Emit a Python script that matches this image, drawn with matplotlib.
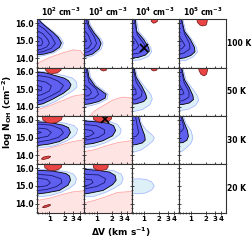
import numpy as np
import matplotlib.pyplot as plt
from matplotlib.ticker import NullFormatter, MultipleLocator

temps = ['100 K', '50 K', '30 K', '20 K']
dens_exp = [2, 3, 4, 5]

# contour outlines as (log10 dV [km/s], log N_OH) pairs,
# keyed by (row, col): rows = temperature, cols = density

# outer (black-edged) dark blue region
dark_zone = {
    (0, 0): [(-0.3, 16.3), (-0.21, 16.3), (-0.18, 16.08), (-0.07, 15.81), (0.07, 15.48), (0.18, 15.18),
             (0.24, 14.88), (0.20, 14.63), (0.07, 14.38), (-0.10, 14.25), (-0.3, 14.19)],
    (0, 1): [(-0.3, 16.3), (-0.18, 16.3), (-0.15, 15.89), (-0.05, 15.45), (0.05, 15.10), (0.09, 14.85),
             (0.05, 14.55), (-0.08, 14.25), (-0.3, 14.06)],
    (0, 2): [(-0.3, 16.3), (-0.17, 16.3), (-0.14, 15.54), (0.0, 15.07), (0.10, 14.60), (0.11, 14.41),
             (0.03, 14.19), (-0.11, 14.06), (-0.3, 14.0)],
    (0, 3): [(-0.3, 16.3), (-0.19, 16.3), (-0.13, 15.54), (-0.01, 15.07), (0.07, 14.63), (0.08, 14.38),
             (0.0, 14.17), (-0.13, 14.03), (-0.3, 13.97)],
    (1, 0): [(-0.3, 16.0), (-0.07, 15.92), (0.14, 15.75), (0.30, 15.62), (0.38, 15.48), (0.43, 15.26),
             (0.40, 15.04), (0.28, 14.77), (0.07, 14.44), (-0.13, 14.17), (-0.3, 14.08)],
    (1, 1): [(-0.3, 16.3), (-0.19, 16.3), (-0.15, 15.67), (-0.03, 15.18), (0.10, 14.90), (0.19, 14.71),
             (0.17, 14.49), (0.04, 14.30), (-0.13, 14.17), (-0.3, 14.11)],
    (1, 2): [(-0.3, 16.3), (-0.20, 16.3), (-0.15, 15.67), (-0.03, 15.12), (0.04, 14.71), (0.06, 14.49),
             (0.0, 14.30), (-0.15, 14.17), (-0.3, 14.14)],
    (1, 3): [(-0.3, 16.3), (-0.19, 16.3), (-0.13, 15.54), (-0.03, 15.07), (0.04, 14.63), (0.05, 14.41),
             (-0.03, 14.22), (-0.15, 14.14), (-0.3, 14.11)],
    (2, 0): [(-0.3, 15.89), (0.0, 15.86), (0.27, 15.70), (0.38, 15.56), (0.42, 15.29), (0.36, 15.01),
             (0.20, 14.77), (0.0, 14.63), (-0.3, 14.52)],
    (2, 1): [(-0.3, 15.95), (0.0, 15.89), (0.23, 15.81), (0.34, 15.67), (0.38, 15.40), (0.32, 15.10),
             (0.13, 14.82), (-0.07, 14.66), (-0.3, 14.58)],
    (2, 2): [(-0.3, 16.3), (-0.11, 16.3), (-0.08, 15.89), (-0.02, 15.40), (0.02, 15.10), (0.03, 14.85),
             (-0.03, 14.69), (-0.15, 14.60), (-0.3, 14.55)],
    (2, 3): [(-0.3, 16.3), (-0.19, 16.3), (-0.13, 15.81), (-0.07, 15.40), (-0.05, 15.07), (-0.08, 14.85),
             (-0.16, 14.71), (-0.3, 14.69)],
    (3, 0): [(-0.3, 15.89), (0.07, 15.84), (0.33, 15.70), (0.40, 15.56), (0.42, 15.32), (0.37, 15.04),
             (0.20, 14.74), (-0.07, 14.60), (-0.3, 14.52)],
    (3, 1): [(-0.3, 15.95), (0.0, 15.89), (0.26, 15.78), (0.37, 15.59), (0.39, 15.32), (0.32, 15.07),
             (0.13, 14.74), (-0.15, 14.58), (-0.3, 14.52)],
}

# pale blue outer region
pale_zone = {
    (0, 0): [(-0.3, 16.3), (-0.19, 16.3), (-0.16, 16.08), (-0.05, 15.81), (0.10, 15.48), (0.22, 15.18),
             (0.28, 14.88), (0.24, 14.60), (0.10, 14.33), (-0.10, 14.17), (-0.3, 14.08)],
    (0, 1): [(-0.3, 16.3), (-0.16, 16.3), (-0.12, 15.89), (-0.02, 15.45), (0.09, 15.10), (0.13, 14.85),
             (0.09, 14.52), (-0.06, 14.17), (-0.3, 13.97)],
    (0, 2): [(-0.3, 16.3), (-0.15, 16.3), (-0.10, 15.54), (0.04, 15.07), (0.14, 14.60), (0.155, 14.36),
             (0.09, 14.11), (-0.07, 13.92), (-0.3, 13.86)],
    (0, 3): [(-0.3, 16.3), (-0.17, 16.3), (-0.10, 15.54), (0.02, 15.07), (0.11, 14.63), (0.13, 14.36),
             (0.04, 14.08), (-0.10, 13.89), (-0.3, 13.84)],
    (1, 0): [(-0.3, 16.03), (-0.05, 15.97), (0.18, 15.84), (0.34, 15.73), (0.465, 15.62), (0.54, 15.40),
             (0.55, 15.12), (0.465, 14.90), (0.32, 14.66), (0.12, 14.30), (-0.10, 14.03), (-0.3, 13.95)],
    (1, 1): [(-0.3, 16.3), (-0.16, 16.3), (-0.12, 15.67), (0.0, 15.21), (0.14, 14.93), (0.23, 14.71),
             (0.21, 14.44), (0.07, 14.22), (-0.11, 14.06), (-0.3, 14.0)],
    (1, 2): [(-0.3, 16.3), (-0.18, 16.3), (-0.12, 15.67), (0.02, 15.12), (0.14, 14.71), (0.17, 14.44),
             (0.12, 14.11), (-0.03, 13.84), (-0.3, 13.67)],
    (1, 3): [(-0.3, 16.3), (-0.17, 16.3), (-0.10, 15.54), (0.02, 15.07), (0.12, 14.66), (0.155, 14.38),
             (0.09, 14.08), (-0.05, 13.86), (-0.3, 13.75)],
    (2, 0): [(-0.3, 15.95), (0.04, 15.92), (0.32, 15.81), (0.49, 15.67), (0.56, 15.48), (0.54, 15.23),
             (0.465, 15.01), (0.32, 14.77), (0.09, 14.52), (-0.3, 14.38)],
    (2, 1): [(-0.3, 16.0), (0.04, 15.95), (0.28, 15.89), (0.42, 15.73), (0.49, 15.45), (0.465, 15.18),
             (0.37, 14.99), (0.18, 14.71), (-0.05, 14.49), (-0.3, 14.41)],
    (2, 2): [(-0.3, 16.3), (-0.08, 16.3), (-0.05, 15.81), (0.04, 15.45), (0.155, 15.18), (0.21, 14.99),
             (0.18, 14.80), (0.09, 14.58), (-0.05, 14.30), (-0.3, 14.08)],
    (2, 3): [(-0.3, 16.3), (-0.16, 16.3), (-0.10, 15.81), (0.0, 15.40), (0.04, 14.99), (0.01, 14.71),
             (-0.08, 14.44), (-0.19, 14.19), (-0.3, 14.11)],
    (3, 0): [(-0.3, 15.95), (0.09, 15.89), (0.34, 15.81), (0.48, 15.67), (0.54, 15.40), (0.51, 15.12),
             (0.42, 14.90), (0.23, 14.63), (0.0, 14.44), (-0.3, 14.36)],
    (3, 1): [(-0.3, 16.0), (0.09, 15.95), (0.34, 15.86), (0.49, 15.67), (0.53, 15.40), (0.49, 15.12),
             (0.37, 14.90), (0.18, 14.63), (-0.05, 14.41), (-0.3, 14.36)],
    (3, 2): [(-0.3, 15.37), (-0.10, 15.40), (0.04, 15.37), (0.155, 15.23), (0.21, 14.99), (0.16, 14.77),
             (0.04, 14.60), (-0.10, 14.55), (-0.3, 14.58)],
}

# inner navy contour lines
core_lines = {
    (0, 0): [[(-0.3, 16.03), (-0.10, 15.67), (0.04, 15.26), (0.12, 14.85), (0.04, 14.58), (-0.13, 14.38), (-0.3, 14.33)],
             [(-0.3, 15.67), (-0.13, 15.40), (-0.03, 15.07), (0.0, 14.85), (-0.05, 14.66), (-0.16, 14.52), (-0.3, 14.49)],
             [(-0.3, 15.32), (-0.16, 15.12), (-0.13, 14.90), (-0.16, 14.74), (-0.3, 14.69)]],
    (0, 1): [[(-0.22, 16.3), (-0.15, 15.70), (-0.04, 15.20), (0.0, 14.85), (-0.05, 14.60), (-0.16, 14.38), (-0.3, 14.30)],
             [(-0.3, 15.80), (-0.16, 15.30), (-0.10, 14.85), (-0.16, 14.60), (-0.3, 14.50)],
             [(-0.3, 15.40), (-0.20, 15.0), (-0.3, 14.75)]],
    (0, 2): [[(-0.20, 16.3), (-0.13, 15.35), (0.01, 14.80), (0.02, 14.52), (-0.10, 14.30), (-0.3, 14.22)],
             [(-0.3, 15.54), (-0.15, 14.99), (-0.10, 14.71), (-0.16, 14.52), (-0.3, 14.47)],
             [(-0.3, 15.12), (-0.19, 14.85), (-0.3, 14.71)]],
    (0, 3): [[(-0.20, 16.3), (-0.13, 15.40), (-0.03, 14.85), (-0.02, 14.55), (-0.14, 14.30), (-0.3, 14.22)],
             [(-0.3, 15.50), (-0.17, 14.99), (-0.12, 14.74), (-0.18, 14.55), (-0.3, 14.50)]],
    (1, 0): [[(-0.3, 15.81), (0.0, 15.67), (0.18, 15.45), (0.28, 15.21), (0.21, 14.90), (0.04, 14.63), (-0.15, 14.38), (-0.3, 14.30)],
             [(-0.3, 15.54), (-0.07, 15.40), (0.04, 15.18), (0.0, 14.90), (-0.15, 14.69), (-0.3, 14.58)],
             [(-0.3, 15.26), (-0.15, 15.12), (-0.16, 14.93), (-0.3, 14.85)]],
    (1, 1): [[(-0.22, 16.3), (-0.15, 15.40), (0.0, 14.99), (0.04, 14.71), (-0.05, 14.49), (-0.3, 14.36)],
             [(-0.3, 15.40), (-0.13, 14.99), (-0.10, 14.80), (-0.16, 14.63), (-0.3, 14.58)]],
    (1, 2): [[(-0.22, 16.3), (-0.15, 15.40), (-0.03, 14.85), (-0.05, 14.58), (-0.16, 14.41), (-0.3, 14.36)],
             [(-0.3, 15.40), (-0.16, 14.99), (-0.15, 14.71), (-0.3, 14.58)]],
    (1, 3): [[(-0.20, 16.3), (-0.14, 15.40), (-0.04, 14.85), (-0.04, 14.55), (-0.16, 14.35), (-0.3, 14.30)],
             [(-0.3, 15.45), (-0.17, 14.99), (-0.14, 14.74), (-0.3, 14.60)]],
    (2, 0): [[(-0.3, 15.78), (0.04, 15.70), (0.23, 15.48), (0.28, 15.26), (0.18, 15.01), (0.0, 14.85), (-0.3, 14.71)],
             [(-0.3, 15.56), (-0.05, 15.48), (0.04, 15.29), (-0.03, 15.07), (-0.3, 14.93)],
             [(-0.3, 15.40), (-0.16, 15.29), (-0.3, 15.15)]],
    (2, 1): [[(-0.3, 15.75), (0.0, 15.67), (0.155, 15.45), (0.16, 15.23), (0.04, 15.01), (-0.3, 14.80)],
             [(-0.3, 15.48), (-0.10, 15.40), (-0.05, 15.23), (-0.15, 15.07), (-0.3, 15.01)]],
    (2, 2): [[(-0.17, 16.3), (-0.13, 15.67), (-0.10, 15.26), (-0.15, 15.07), (-0.3, 14.99)]],
    (2, 3): [[(-0.21, 16.3), (-0.16, 15.81), (-0.14, 15.54), (-0.19, 15.34), (-0.3, 15.26)]],
    (3, 0): [[(-0.3, 15.67), (0.04, 15.59), (0.23, 15.40), (0.25, 15.18), (0.14, 14.96), (-0.05, 14.80), (-0.3, 14.71)],
             [(-0.3, 15.45), (-0.05, 15.37), (0.02, 15.18), (-0.05, 15.01), (-0.3, 14.90)]],
    (3, 1): [[(-0.3, 15.67), (0.04, 15.62), (0.18, 15.40), (0.155, 15.18), (0.0, 14.96), (-0.3, 14.80)],
             [(-0.3, 15.40), (-0.10, 15.34), (-0.07, 15.18), (-0.16, 15.04), (-0.3, 14.99)]],
}

# pale red region at low column density
pink_zone = {
    (0, 0): [(-0.3, 13.73), (-0.22, 13.75), (0.01, 14.06), (0.28, 14.33), (0.48, 14.49), (0.62, 14.44),
             (0.68, 14.19), (0.75, 14.0), (0.75, 13.4), (-0.3, 13.4)],
    (1, 0): [(-0.3, 13.78), (0.0, 14.06), (0.27, 14.36), (0.465, 14.60), (0.75, 14.74), (0.75, 13.4), (-0.3, 13.4)],
    (1, 1): [(-0.14, 13.4), (-0.13, 13.48), (-0.05, 13.75), (0.13, 14.06), (0.32, 14.38), (0.51, 14.55),
             (0.65, 14.52), (0.75, 14.47), (0.75, 13.4)],
    (2, 0): [(-0.3, 14.25), (-0.05, 14.36), (0.23, 14.58), (0.465, 14.77), (0.75, 14.90), (0.75, 13.4), (-0.3, 13.4)],
    (2, 1): [(-0.3, 14.17), (-0.05, 14.30), (0.18, 14.52), (0.42, 14.71), (0.75, 14.85), (0.75, 13.4), (-0.3, 13.4)],
    (3, 0): [(-0.3, 14.14), (0.0, 14.30), (0.23, 14.49), (0.465, 14.66), (0.75, 14.74), (0.75, 13.4), (-0.3, 13.4)],
    (3, 1): [(-0.3, 14.0), (-0.05, 14.17), (0.18, 14.38), (0.42, 14.63), (0.75, 14.69), (0.75, 13.4), (-0.3, 13.4)],
}

# strong red islands
red_spots = {
    (0, 2): [[(0.145, 16.3), (0.15, 16.10), (0.19, 16.0), (0.23, 16.02), (0.27, 16.10), (0.28, 16.3)]],
    (0, 3): [[(0.12, 16.3), (0.125, 16.06), (0.18, 15.89), (0.23, 15.84), (0.30, 15.89), (0.32, 16.03), (0.33, 16.3)]],
    (1, 0): [[(-0.09, 16.3), (-0.08, 16.10), (-0.02, 15.92), (0.06, 15.89), (0.16, 15.92), (0.23, 16.08), (0.25, 16.3)]],
    (1, 1): [[(0.07, 16.3), (0.08, 16.10), (0.13, 16.03), (0.19, 16.06), (0.21, 16.3)]],
    (1, 2): [[(0.145, 16.3), (0.15, 16.10), (0.20, 16.03), (0.26, 16.08), (0.28, 16.3)]],
    (1, 3): [[(0.155, 16.3), (0.16, 16.06), (0.20, 15.84), (0.26, 15.75), (0.31, 15.84), (0.33, 16.06), (0.33, 16.3)]],
    (2, 0): [[(-0.14, 16.3), (-0.13, 16.0), (-0.05, 15.84), (0.04, 15.81), (0.14, 15.84), (0.24, 16.0), (0.27, 16.3)],
             [(-0.16, 13.78), (-0.12, 13.89), (-0.02, 13.95), (0.03, 13.92), (-0.02, 13.82), (-0.12, 13.75)]],
    (2, 1): [[(-0.07, 16.3), (-0.06, 16.03), (0.02, 15.89), (0.12, 15.87), (0.24, 15.92), (0.30, 16.06), (0.30, 16.3)]],
    (3, 0): [[(-0.10, 16.3), (-0.09, 16.03), (-0.02, 15.89), (0.08, 15.87), (0.18, 15.92), (0.24, 16.06), (0.25, 16.3)],
             [(-0.14, 13.78), (-0.10, 13.87), (-0.01, 13.94), (0.03, 13.92), (-0.02, 13.83), (-0.10, 13.76)]],
    (3, 1): [[(-0.07, 16.3), (-0.06, 16.03), (0.0, 15.90), (0.09, 15.87), (0.19, 15.92), (0.23, 16.06), (0.23, 16.3)]],
}

# best-fit crosses: (dV km/s, log N)
best_fit = {(0, 2): (1.0, 14.61), (2, 1): (1.45, 16.06)}


def xy(pts):
    a = np.array(pts)
    return 10 ** a[:, 0], a[:, 1]


fig = plt.figure(figsize=(2.52, 2.41), dpi=100)
axes = fig.subplots(4, 4, sharex=True, sharey=True)
fig.subplots_adjust(left=0.148, right=0.897, top=0.92, bottom=0.1175, hspace=0, wspace=0)

for r in range(4):
    for c in range(4):
        ax = axes[r, c]
        key = (r, c)
        if key in pink_zone:
            x, y = xy(pink_zone[key])
            ax.fill(x, y, facecolor='#ffe4e4', edgecolor='#ff9d9d', lw=0.5)
        if key in pale_zone:
            x, y = xy(pale_zone[key])
            ax.fill(x, y, facecolor='#ddf0f8', edgecolor='#9fb0ff', lw=0.5)
        if key in dark_zone:
            x, y = xy(dark_zone[key])
            ax.fill(x, y, facecolor='#5f5ff0', edgecolor='black', lw=0.6)
        for line in core_lines.get(key, []):
            x, y = xy(line)
            ax.plot(x, y, color='#1a1a70', lw=0.6)
        for spot in red_spots.get(key, []):
            x, y = xy(spot)
            ax.fill(x, y, facecolor='#ea4545', edgecolor='#6a1010', lw=0.5)
        if key in best_fit:
            ax.plot(*best_fit[key], 'x', color='black', ms=6, mew=1.2)

        ax.set_xscale('log')
        ax.set_xlim(0.575, 5.0)
        ax.set_ylim(13.48, 16.22)
        ax.set_xticks([1, 2, 3, 4])
        ax.set_xticklabels(['1', '2', '3', '4'])
        ax.set_xticks([0.6, 0.7, 0.8, 0.9], minor=True)
        ax.xaxis.set_minor_formatter(NullFormatter())
        ax.set_yticks([14, 15, 16])
        ax.set_yticklabels(['14.0', '15.0', '16.0'])
        ax.yaxis.set_minor_locator(MultipleLocator(0.25))
        ax.tick_params(which='major', direction='inout', length=3, width=0.5, pad=1.2)
        ax.tick_params(which='minor', direction='inout', length=1.6, width=0.4)
        ax.tick_params(axis='x', labelsize=5, pad=0.8)
        ax.tick_params(axis='y', labelsize=5.5)
        for lab in ax.get_xticklabels() + ax.get_yticklabels():
            lab.set_fontweight('bold')
        for s in ax.spines.values():
            s.set_linewidth(0.8)
            s.set_color('#333333')
        if r == 0:
            ax.set_title(r'10$^{\mathbf{%d}}$ cm$^{\mathbf{-3}}$' % dens_exp[c], fontsize=5.5,
                         fontweight='bold', pad=2.5)
        if c == 3:
            ax.text(1.03, 0.5, temps[r], transform=ax.transAxes, ha='left', va='center',
                    fontsize=5.5, fontweight='bold')

fig.text(8 / 252, 1 - 112 / 241, r'$\mathbf{log\ N_{OH}\ (cm^{-2})}$', rotation=90,
         ha='center', va='center', fontsize=6.5)
fig.text(121 / 252, 1 - 232 / 241, r'$\mathbf{\Delta V\ (km\ s^{-1})}$',
         ha='center', va='center', fontsize=6.5)

plt.savefig('out.png', dpi=100)
